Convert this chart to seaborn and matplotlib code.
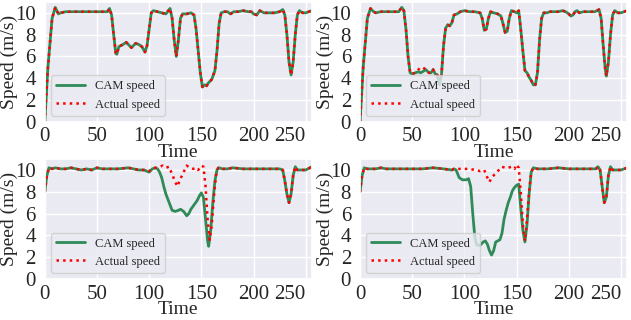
import numpy as np
import pandas as pd
import matplotlib
matplotlib.use("Agg")
import matplotlib.pyplot as plt
import seaborn as sns

# ---- panel 1 (top-left): CAM speed and actual speed overlap ----
t1 = [0, 3, 7, 10, 13, 15, 20, 30, 40, 50, 60, 62, 64, 66, 68, 69, 71, 75, 78, 80, 83, 87, 90, 93, 96, 98,
      100, 102, 104, 108, 112, 116, 120, 122, 124, 126, 128, 130, 132, 136, 140, 143, 145, 147, 149, 151, 153,
      155, 157, 160, 163, 165, 167, 169, 172, 175, 178, 181, 185, 190, 195, 198, 200, 203, 206, 210, 215, 220,
      225, 228, 230, 232, 234, 236, 238, 240, 242, 244, 247, 250, 253, 256]
cam1 = [0.0, 5.0, 9.5, 10.5, 9.9, 10.0, 10.1, 10.1, 10.1, 10.1, 10.1, 10.4, 9.8, 8.0, 6.3, 6.2, 6.9, 7.1, 7.3, 7.1,
        6.8, 7.2, 7.1, 6.9, 6.4, 7.0, 8.5, 10.0, 10.2, 10.1, 10.0, 9.9, 10.4, 9.5, 7.5, 6.0, 7.5, 9.5, 9.9, 9.9,
        10.0, 9.8, 8.5, 6.5, 4.5, 3.2, 3.4, 3.3, 3.6, 3.9, 4.7, 6.5, 9.0, 10.0, 10.1, 10.1, 9.9, 10.1, 10.1, 10.2,
        10.1, 10.1, 9.9, 9.8, 10.2, 10.0, 10.0, 10.0, 10.1, 10.3, 9.8, 8.0, 5.5, 4.3, 5.5, 8.0, 9.8, 10.2, 10.0,
        10.0, 10.1, 10.2]
act1 = list(cam1)

# ---- panel 2 (top-right) ----
t2 = [0, 3, 7, 10, 13, 15, 20, 30, 37, 40, 42, 44, 46, 48, 50, 53, 56, 58, 60, 63, 66, 68, 70, 72, 74, 76, 78,
      80, 82, 84, 86, 88, 90, 93, 96, 100, 105, 110, 115, 117, 119, 121, 123, 125, 128, 132, 135, 137, 139, 141,
      143, 145, 148, 150, 152, 154, 156, 158, 160, 162, 164, 166, 168, 170, 172, 174, 176, 179, 182, 186, 190,
      194, 197, 200, 202, 204, 206, 208, 210, 214, 220, 225, 229, 231, 233, 235, 236, 238, 240, 242, 244, 247,
      250, 253, 256]
cam2 = [0.0, 5.0, 9.5, 10.4, 10.1, 10.0, 10.1, 10.1, 10.1, 10.5, 10.2, 8.5, 6.0, 4.5, 4.4, 4.5, 4.6, 4.5, 4.6,
        4.8, 4.5, 4.5, 4.8, 4.4, 4.3, 3.4, 4.3, 7.0, 8.6, 8.9, 8.8, 9.1, 9.8, 9.9, 10.1, 10.2, 10.1, 10.1, 10.0,
        9.5, 8.4, 8.5, 9.5, 10.1, 10.0, 9.9, 9.7, 9.0, 8.2, 8.3, 9.5, 10.2, 10.1, 10.0, 10.2, 8.5, 6.5, 4.7, 4.5,
        4.1, 3.8, 3.4, 3.4, 4.5, 7.5, 9.5, 10.0, 10.0, 10.1, 10.1, 10.1, 10.2, 10.1, 9.9, 9.7, 9.8, 10.1, 10.2,
        10.0, 10.1, 10.1, 10.1, 10.3, 9.5, 7.0, 4.8, 4.2, 5.5, 8.0, 9.8, 10.2, 10.0, 10.0, 10.1, 10.2]
act2 = [0.0, 5.0, 9.5, 10.4, 10.1, 10.0, 10.1, 10.1, 10.1, 10.5, 10.2, 8.5, 6.0, 4.5, 4.4, 4.5, 4.8, 5.0, 5.0,
        4.8, 4.5, 4.5, 4.8, 4.4, 4.3, 4.0, 4.3, 7.0, 8.6, 8.9, 8.8, 9.1, 9.8, 9.9, 10.1, 10.2, 10.1, 10.1, 10.0,
        9.5, 8.4, 8.5, 9.5, 10.1, 10.0, 9.9, 9.7, 9.0, 8.2, 8.3, 9.5, 10.2, 10.1, 10.0, 10.2, 8.5, 6.5, 4.7, 4.5,
        4.1, 3.8, 3.4, 3.4, 4.5, 7.5, 9.5, 10.0, 10.0, 10.1, 10.1, 10.1, 10.2, 10.1, 9.9, 9.7, 9.8, 10.1, 10.2,
        10.0, 10.1, 10.1, 10.1, 10.3, 9.5, 7.0, 4.8, 4.2, 5.5, 8.0, 9.8, 10.2, 10.0, 10.0, 10.1, 10.2]

# ---- panel 3 (bottom-left) ----
t3 = [0, 2, 4, 7, 10, 15, 20, 25, 30, 35, 40, 45, 50, 55, 60, 70, 80, 90, 95, 100, 103, 106, 108, 110, 112, 114,
      116, 118, 120, 122, 125, 128, 130, 133, 136, 138, 140, 143, 146, 148, 150, 152, 154, 156, 157, 159, 161,
      163, 165, 167, 170, 175, 180, 190, 200, 210, 220, 225, 228, 230, 232, 234, 236, 238, 240, 242, 246, 250,
      256]
cam3 = [8.0, 9.5, 10.2, 10.1, 10.2, 10.1, 10.1, 10.2, 10.1, 10.0, 10.1, 10.0, 10.2, 10.1, 10.1, 10.1, 10.2, 10.0,
        10.0, 9.8, 10.1, 10.2, 10.1, 9.8, 9.3, 8.5, 7.8, 7.3, 6.8, 6.3, 6.2, 6.3, 6.4, 6.2, 5.8, 6.0, 6.4, 6.8,
        7.2, 7.6, 7.9, 7.5, 5.5, 3.5, 3.0, 4.5, 7.0, 9.0, 10.0, 10.2, 10.1, 10.1, 10.2, 10.1, 10.1, 10.1, 10.1,
        10.1, 10.0, 9.0, 7.8, 7.0, 7.8, 9.5, 10.3, 10.0, 10.0, 10.0, 10.3]
t3a = [0, 2, 4, 7, 10, 15, 20, 25, 30, 35, 40, 45, 50, 55, 60, 70, 80, 90, 95, 100, 103, 106, 110, 113, 116, 119,
       122, 125, 127, 130, 133, 136, 139, 142, 145, 147, 150, 152, 154, 156, 158, 160, 162, 164, 166, 170, 175,
       180, 190, 200, 210, 220, 225, 228, 230, 232, 234, 236, 238, 240, 242, 246, 250, 256]
act3 = [8.0, 9.5, 10.2, 10.1, 10.2, 10.1, 10.1, 10.2, 10.1, 10.0, 10.1, 10.0, 10.2, 10.1, 10.1, 10.1, 10.2, 10.0,
        10.0, 9.9, 10.1, 10.2, 10.3, 10.4, 10.2, 10.3, 9.6, 8.9, 8.5, 9.2, 9.8, 10.4, 10.2, 10.1, 10.2, 10.0,
        10.4, 10.3, 8.5, 5.5, 3.6, 5.0, 7.5, 9.5, 10.2, 10.1, 10.1, 10.2, 10.1, 10.1, 10.1, 10.1, 10.1, 10.0,
        9.0, 7.8, 7.0, 7.8, 9.5, 10.3, 10.0, 10.0, 10.0, 10.3]

# ---- panel 4 (bottom-right) ----
t4 = [0, 2, 4, 7, 10, 15, 20, 25, 30, 40, 50, 60, 70, 80, 88, 90, 92, 95, 98, 102, 104, 106, 108, 110, 112, 115,
      118, 120, 122, 124, 126, 128, 130, 132, 134, 136, 138, 140, 142, 144, 146, 148, 150, 152, 154, 156, 158,
      160, 162, 164, 166, 170, 180, 190, 200, 210, 220, 226, 228, 230, 232, 234, 236, 238, 240, 242, 246, 250,
      256]
cam4 = [8.0, 9.5, 10.2, 10.1, 10.1, 10.1, 10.2, 10.1, 10.1, 10.1, 10.1, 10.1, 10.2, 10.1, 10.0, 10.1, 10.0, 9.3,
        9.1, 9.1, 9.2, 8.5, 6.0, 3.8, 3.1, 3.1, 3.4, 3.5, 3.2, 2.6, 2.2, 2.6, 3.4, 3.5, 3.6, 4.2, 5.5, 6.3, 7.0,
        7.5, 8.1, 8.4, 8.6, 8.7, 6.5, 4.5, 3.4, 5.0, 7.8, 9.8, 10.2, 10.1, 10.1, 10.2, 10.1, 10.1, 10.1, 10.1,
        10.3, 10.0, 8.5, 7.0, 7.5, 9.5, 10.3, 10.0, 10.0, 10.0, 10.2]
t4a = [0, 2, 4, 7, 10, 15, 20, 25, 30, 40, 50, 60, 70, 80, 88, 90, 95, 100, 105, 110, 115, 119, 121, 124, 126,
       130, 133, 136, 139, 142, 145, 148, 150, 152, 154, 156, 158, 160, 162, 164, 166, 170, 180, 190, 200, 210,
       220, 226, 228, 230, 232, 234, 236, 238, 240, 242, 246, 250, 256]
act4 = [8.0, 9.5, 10.2, 10.1, 10.1, 10.1, 10.2, 10.1, 10.1, 10.1, 10.1, 10.1, 10.2, 10.1, 10.0, 10.1, 10.1, 10.1,
        10.1, 10.0, 9.9, 10.0, 9.5, 8.9, 9.3, 9.7, 10.0, 10.3, 10.2, 10.2, 10.3, 10.1, 10.5, 10.2, 8.0, 5.0,
        3.5, 5.5, 8.0, 9.8, 10.2, 10.1, 10.1, 10.2, 10.1, 10.1, 10.1, 10.1, 10.3, 10.0, 8.5, 7.0, 7.5, 9.5,
        10.3, 10.0, 10.0, 10.0, 10.2]

x_ticks = [0, 50, 100, 150, 200, 250]
y_ticks = [0, 2, 4, 6, 8, 10]

panels = [
    (t1, cam1, t1, act1),
    (t2, cam2, t2, act2),
    (t3, cam3, t3a, act3),
    (t4, cam4, t4a, act4),
]

sns.set_theme(style="darkgrid")
plt.rcParams["font.family"] = ["Liberation Serif", "DejaVu Serif"]

fig, axes = plt.subplots(2, 2, figsize=(6.31, 3.2), dpi=100)
fig.subplots_adjust(left=0.071, right=0.994, top=0.994, bottom=0.128, wspace=0.18, hspace=0.31)

for ax, (tc, vc, ta, va) in zip(axes.flat, panels):
    sns.lineplot(x=tc, y=vc, ax=ax, color="seagreen", linewidth=2.0, label="CAM speed")
    sns.lineplot(x=ta, y=va, ax=ax, color="red", linewidth=1.8, linestyle=":", label="Actual speed")
    ax.set_xlim(0, 256)
    ax.set_ylim(0, 11)
    ax.set_xticks(x_ticks)
    ax.set_yticks(y_ticks)
    ax.tick_params(axis="x", labelsize=15, pad=-2)
    ax.tick_params(axis="y", labelsize=15, pad=0.5)
    # last tick label sits just inside the panel edge, as in the source image
    ax.get_xticklabels()[-1].set_horizontalalignment("right")
    ax.set_xlabel("Time", fontsize=14, labelpad=-2)
    ax.set_ylabel("Speed (m/s)", fontsize=14, labelpad=-2.5)
    ax.legend(loc="lower left", fontsize=9, frameon=True, handlelength=2.3)

plt.savefig("out.png", dpi=100)
